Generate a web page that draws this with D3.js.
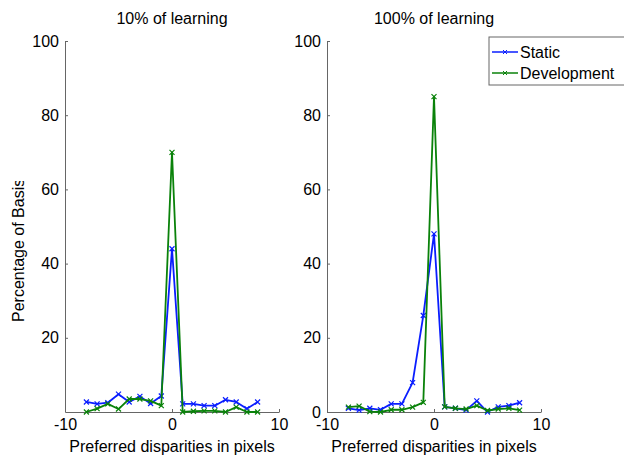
<!DOCTYPE html>
<html>
<head>
<meta charset="utf-8">
<script src="https://cdn.jsdelivr.net/npm/d3@7"></script>
<style>
body { margin: 0; background: #fff; }
svg { display: block; font-family: "Liberation Sans", Arial, sans-serif; }
.axis path, .axis line { stroke: #666; }
.axis text { font-size: 16px; fill: #000; font-family: "Liberation Sans", Arial, sans-serif; }
</style>
</head>
<body>
<script>
(function(){

//disparities (x values)
var disparities = [-8, -7, -6, -5, -4, -3, -2, -1, 0, 1, 2, 3, 4, 5, 6, 7, 8];

//10% of learning
var static10 = [2.7, 2.2, 2.5, 4.8, 2.7, 4.2, 2.3, 4.3, 44, 2.2, 2.2, 1.7, 1.7, 3.3, 2.7, 0.9, 2.7];
var develop10 = [0, 0.9, 2.2, 0.8, 3.5, 3.5, 3.0, 1.7, 70, 0, 0.2, 0.3, 0.3, 0, 1.3, 0, 0];

//100% of learning
var static100 = [1.0, 0.5, 1.0, 0.6, 2.2, 2.2, 7.9, 26, 48, 1.4, 1.0, 0.5, 3.0, 0, 1.4, 1.7, 2.5];
var develop100 = [1.3, 1.6, 0.1, 0, 0.6, 0.6, 1.3, 2.6, 85, 1.4, 1.0, 0.8, 1.7, 0.4, 0.8, 1.0, 0.5];

var xTicks = [-10, 0, 10];
var yTicksLeft = [20, 40, 60, 80, 100];
var yTicksRight = [0, 20, 40, 60, 80, 100];
var seriesNames = ["Static", "Development"];
var seriesColors = ["#0a1eff", "#0a820a"];

var width = 624, height = 458;

var svg = d3.select("body").append("svg")
    .attr("width", width)
    .attr("height", height);

//panel frames
var panels = [
    {left: 65, right: 279, title: "10% of learning", data: [static10, develop10], yTicks: yTicksLeft},
    {left: 327, right: 541, title: "100% of learning", data: [static100, develop100], yTicks: yTicksRight}
];
var top = 41, bottom = 412;

var yScale = d3.scaleLinear().domain([0, 100]).range([bottom, top]);

panels.forEach(function(p){
    var xScale = d3.scaleLinear().domain([-10, 10]).range([p.left, p.right]);

    //x axis, ticks pointing inwards
    svg.append("g")
        .attr("class", "axis")
        .attr("transform", "translate(0," + bottom + ")")
        .call(d3.axisBottom(xScale).tickValues(xTicks).tickFormat(function(d){ return String(d); })
            .tickSizeInner(-3).tickSizeOuter(0).tickPadding(7));

    //y axis
    svg.append("g")
        .attr("class", "axis")
        .attr("transform", "translate(" + p.left + ",0)")
        .call(d3.axisLeft(yScale).tickValues(p.yTicks).tickSizeInner(-3).tickSizeOuter(0).tickPadding(6));

    //title
    svg.append("text")
        .attr("x", (p.left + p.right) / 2)
        .attr("y", 24)
        .attr("text-anchor", "middle")
        .style("font-size", "16px")
        .text(p.title);

    //x label
    svg.append("text")
        .attr("x", (p.left + p.right) / 2)
        .attr("y", 452)
        .attr("text-anchor", "middle")
        .style("font-size", "16px")
        .text("Preferred disparities in pixels");

    var line = d3.line()
        .x(function(d, i){ return xScale(disparities[i]); })
        .y(function(d){ return yScale(d); });

    p.data.forEach(function(vals, s){
        svg.append("path")
            .datum(vals)
            .attr("d", line)
            .attr("fill", "none")
            .attr("stroke", seriesColors[s])
            .attr("stroke-width", 1.8)
            .attr("stroke-linejoin", "round");

        //x markers
        svg.selectAll(null)
            .data(vals)
            .enter()
            .append("path")
            .attr("transform", function(d, i){
                return "translate(" + xScale(disparities[i]) + "," + yScale(d) + ")";
            })
            .attr("d", "M-2.5,-2.5L2.5,2.5M-2.5,2.5L2.5,-2.5")
            .attr("stroke", seriesColors[s])
            .attr("stroke-width", 1.2);
    });
});

//y label, clipped like the original
svg.append("clipPath")
    .attr("id", "ylabclip")
    .append("rect")
    .attr("x", 0).attr("y", 181).attr("width", 40).attr("height", 200);

svg.append("g")
    .attr("clip-path", "url(#ylabclip)")
    .append("text")
    .attr("transform", "translate(24,322) rotate(-90)")
    .attr("text-anchor", "start")
    .style("font-size", "16px")
    .text("Percentage of Basis functions");

//legend
var legend = svg.append("g").attr("transform", "translate(489,37)");
legend.append("rect")
    .attr("x", 0).attr("y", 0)
    .attr("width", 150).attr("height", 48)
    .attr("fill", "#fff")
    .attr("stroke", "#666");

seriesNames.forEach(function(name, i){
    var ly = 15 + i * 21;
    legend.append("line")
        .attr("x1", 3).attr("x2", 29)
        .attr("y1", ly).attr("y2", ly)
        .attr("stroke", seriesColors[i])
        .attr("stroke-width", 1.5);
    legend.append("path")
        .attr("transform", "translate(16," + ly + ")")
        .attr("d", "M-2,-2L2,2M-2,2L2,-2")
        .attr("stroke", seriesColors[i]);
    legend.append("text")
        .attr("x", 31).attr("y", ly + 6)
        .style("font-size", "16px")
        .text(name);
});

})();
</script>
</body>
</html>
